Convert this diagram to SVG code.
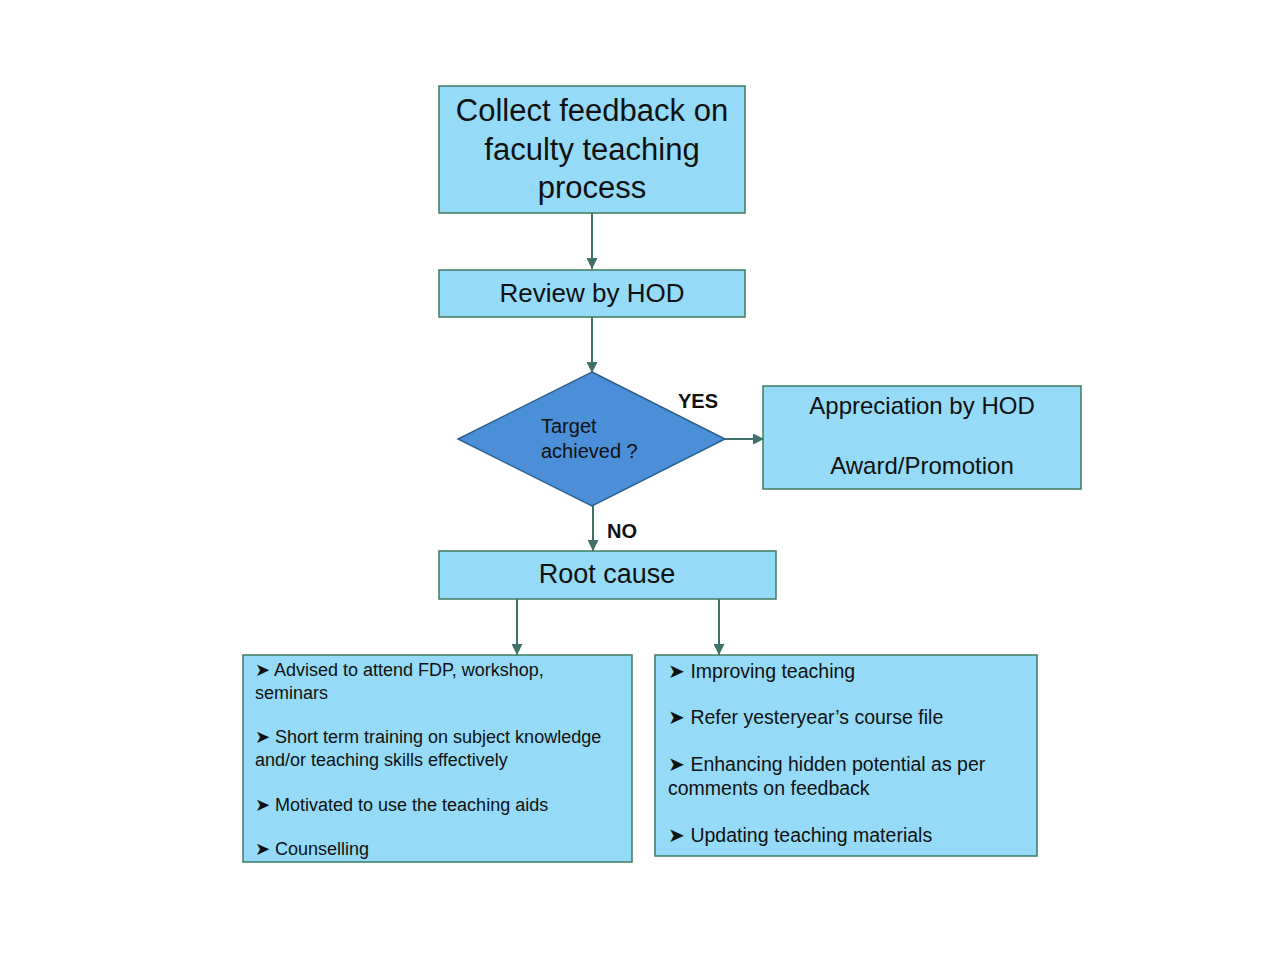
<svg xmlns="http://www.w3.org/2000/svg" width="1280" height="960" viewBox="0 0 1280 960">
<style>
.box{fill:#95DBF7;stroke:#3C7D5C;stroke-width:1.5}
.dia{fill:#4A8FD8;stroke:#2F5F8F;stroke-width:1.5}
.t{font-family:"Liberation Sans",Arial,sans-serif;fill:#111}
.c{text-anchor:middle}
.con{stroke:#40706A;stroke-width:2;fill:none;marker-end:url(#ah)}
.b{font-family:"Liberation Sans",Arial,sans-serif;font-size:18px;fill:#111}
.r{font-size:19.5px}
</style>
<defs>
<marker id="ah" viewBox="0 0 10 10" refX="10" refY="5" markerWidth="11" markerHeight="11" markerUnits="userSpaceOnUse" orient="auto">
<path d="M0,0 L10,5 L0,10 z" fill="#40706A"/>
</marker>
</defs>
<rect width="1280" height="960" fill="#fff"/>
<g id="connectors">
<line class="con" x1="592" y1="213" x2="592" y2="269"/>
<line class="con" x1="592" y1="317" x2="592" y2="373"/>
<line class="con" x1="725" y1="439" x2="764" y2="439"/>
<line class="con" x1="593" y1="506" x2="593" y2="551"/>
<line class="con" x1="517" y1="599" x2="517" y2="655"/>
<line class="con" x1="719" y1="599" x2="719" y2="655"/>
<text class="t" x="678" y="408" font-size="20" font-weight="bold">YES</text>
<text class="t" x="607" y="538" font-size="20" font-weight="bold">NO</text>
</g>
<g id="collect">
<rect class="box" x="439" y="86" width="306" height="127"/>
<text class="t c" x="592" y="121" font-size="31">Collect feedback on</text>
<text class="t c" x="592" y="160" font-size="31">faculty teaching</text>
<text class="t c" x="592" y="198" font-size="31">process</text>
</g>
<g id="review">
<rect class="box" x="439" y="270" width="306" height="47"/>
<text class="t c" x="592" y="302" font-size="26">Review by HOD</text>
</g>
<g id="decision">
<polygon class="dia" points="592,372 725,439 592,506 458,439"/>
<text class="t" x="541" y="433" font-size="20">Target</text>
<text class="t" x="541" y="458" font-size="20">achieved ?</text>
</g>
<g id="appreciation">
<rect class="box" x="763" y="386" width="318" height="103"/>
<text class="t c" x="922" y="414" font-size="24">Appreciation by HOD</text>
<text class="t c" x="922" y="474" font-size="24">Award/Promotion</text>
</g>
<g id="rootcause">
<rect class="box" x="439" y="551" width="337" height="48"/>
<text class="t c" x="607" y="583" font-size="27">Root cause</text>
</g>
<g id="actions-left">
<rect class="box" x="243" y="655" width="389" height="207"/>
<text class="b" x="255" y="676">➤ Advised to attend FDP, workshop,</text>
<text class="b" x="255" y="699">seminars</text>
<text class="b" x="255" y="743">➤ Short term training on subject knowledge</text>
<text class="b" x="255" y="766">and/or teaching skills effectively</text>
<text class="b" x="255" y="811">➤ Motivated to use the teaching aids</text>
<text class="b" x="255" y="855">➤ Counselling</text>
</g>
<g id="actions-right">
<rect class="box" x="655" y="655" width="382" height="201"/>
<text class="b r" x="668" y="678">➤ Improving teaching</text>
<text class="b r" x="668" y="724">➤ Refer yesteryear’s course file</text>
<text class="b r" x="668" y="771">➤ Enhancing hidden potential as per</text>
<text class="b r" x="668" y="795">comments on feedback</text>
<text class="b r" x="668" y="842">➤ Updating teaching materials</text>
</g>
</svg>
